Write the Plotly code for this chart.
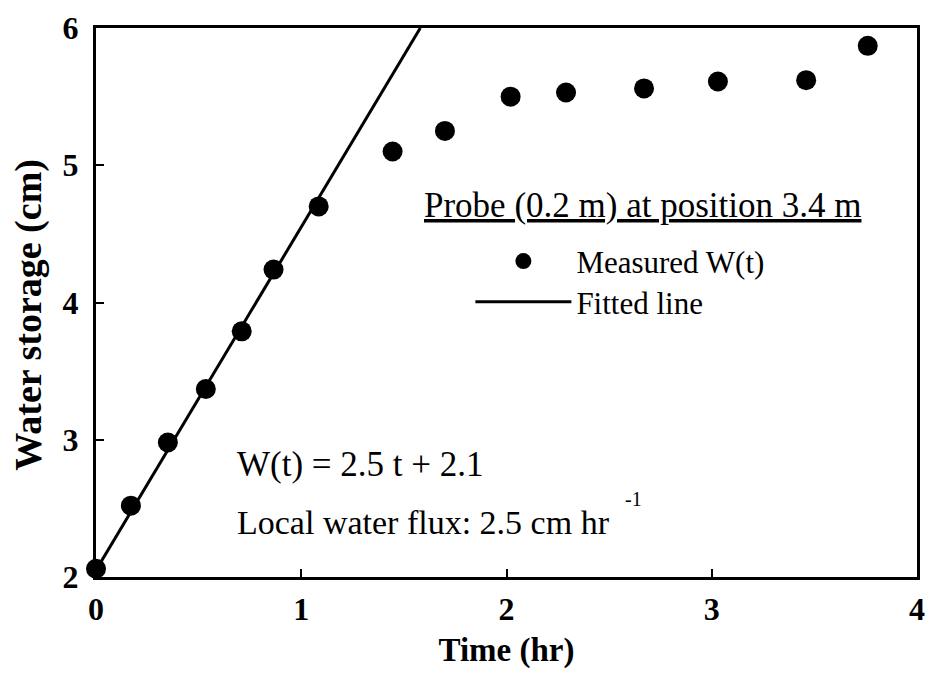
import plotly.graph_objects as go

time_hr = [0.0, 0.17, 0.35, 0.535, 0.71, 0.865, 1.085, 1.445, 1.70, 2.02, 2.29, 2.67, 3.03, 3.46, 3.76]
storage_cm = [2.06, 2.52, 2.98, 3.37, 3.79, 4.24, 4.70, 5.10, 5.25, 5.50, 5.53, 5.56, 5.61, 5.62, 5.87]
fit_t = [0.0, 1.58]
fit_w = [2.05, 6.0]
x_ticks = [0, 1, 2, 3, 4]
y_ticks = [2, 3, 4, 5, 6]

SERIF = "Liberation Serif"

fig = go.Figure()
fig.add_trace(go.Scatter(x=time_hr, y=storage_cm, mode="markers", name="Measured W(t)",
                         marker=dict(color="black", size=20), cliponaxis=False, legend="legend"))
fig.add_trace(go.Scatter(x=fit_t, y=fit_w, mode="lines", name="Fitted line",
                         line=dict(color="black", width=3), legend="legend2"))

legend_common = dict(xanchor="left", yanchor="top", font=dict(family=SERIF, size=31),
                     bgcolor="rgba(0,0,0,0)", itemwidth=96)

fig.update_layout(
    width=935, height=683,
    margin=dict(l=96, r=10, t=28, b=106),
    plot_bgcolor="white", paper_bgcolor="white",
    font=dict(family=SERIF, color="black", size=34),
    showlegend=True,
    legend=dict(x=0.456, y=0.624, **legend_common),
    legend2=dict(x=0.456, y=0.550, **legend_common),
    xaxis=dict(range=[0, 4], tickvals=x_ticks, ticks="inside", ticklen=8, tickwidth=2,
               tickcolor="black", showline=True, linecolor="black", linewidth=3, mirror=True,
               showgrid=False, zeroline=False,
               tickfont=dict(family=SERIF, size=32, color="black", weight="bold"),
               ticklabelstandoff=2,
               title=dict(text="<b>Time (hr)</b>", font=dict(family=SERIF, size=33), standoff=12)),
    yaxis=dict(range=[2, 6], tickvals=y_ticks, ticks="inside", ticklen=8, tickwidth=2,
               tickcolor="black", showline=True, linecolor="black", linewidth=3, mirror=True,
               showgrid=False, zeroline=False,
               tickfont=dict(family=SERIF, size=32, color="black", weight="bold"),
               ticklabelstandoff=8),
    annotations=[
        dict(x=(27 - 96) / 829, y=1 - (315 - 28) / 549, xref="paper", yref="paper",
             xanchor="center", yanchor="middle", textangle=-90, showarrow=False,
             text="<b>Water storage (cm)</b>", font=dict(family=SERIF, size=38)),
        dict(x=(425 - 96) / 829, y=1 - (205 - 28) / 549, xref="paper", yref="paper",
             xanchor="left", yanchor="middle", showarrow=False,
             text="<u>Probe (0.2 m) at position 3.4 m</u>", font=dict(family=SERIF, size=35)),
        dict(x=0.675, y=2.82, xref="x", yref="y", xanchor="left", yanchor="middle",
             text="W(t) = 2.5 t + 2.1", showarrow=False, font=dict(family=SERIF, size=35)),
        dict(x=0.675, y=2.40, xref="x", yref="y", xanchor="left", yanchor="middle",
             text="Local water flux: 2.5 cm hr", showarrow=False,
             font=dict(family=SERIF, size=34)),
        dict(x=2.62, y=2.57, xref="x", yref="y", xanchor="center", yanchor="middle",
             text="-1", showarrow=False, font=dict(family=SERIF, size=20)),
    ],
)

fig.write_html("out.html")
